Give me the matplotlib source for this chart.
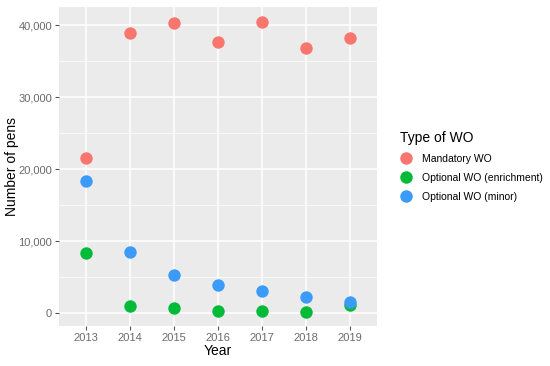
import matplotlib
matplotlib.use("Agg")
import matplotlib.pyplot as plt
from matplotlib.lines import Line2D

plt.rcParams['font.family'] = ['Liberation Sans', 'DejaVu Sans']

years = [2013, 2014, 2015, 2016, 2017, 2018, 2019]
mandatory = [21500, 38900, 40300, 37600, 40400, 36800, 38200]
enrichment = [8300, 1000, 700, 300, 300, 200, 1100]
minor = [18300, 8500, 5300, 3900, 3000, 2200, 1500]
series_names = ["Mandatory WO", "Optional WO (enrichment)", "Optional WO (minor)"]
colors = ["#F8766D", "#00BA38", "#3C9BF8"]
yticks = [0, 10000, 20000, 30000, 40000]

fig = plt.figure(figsize=(5.5, 3.66), dpi=100)
ax = fig.add_axes([59/550, 1-326/366, (377-59)/550, (326-7)/366])
ax.set_facecolor("#EBEBEB")
for s in ax.spines.values():
    s.set_visible(False)

for vals, c in zip([mandatory, enrichment, minor], colors):
    ax.scatter(years, vals, s=80, color=c, zorder=3, linewidths=0)

ax.set_xlim(2013 - 0.61, 2019 + 0.61)
ax.set_ylim(-1800, 42500)
ax.set_xticks(years)
ax.set_yticks(yticks)
ax.set_yticklabels([f"{v:,}" for v in yticks])
ax.set_yticks([5000, 15000, 25000, 35000], minor=True)
ax.grid(which='major', color='white', linewidth=1.1, zorder=0)
ax.grid(which='minor', axis='y', color='white', linewidth=0.55, zorder=0)
ax.tick_params(which='major', length=3, color='#555555', labelcolor='#6A6A6A', labelsize=8, width=0.8, pad=2)
ax.tick_params(which='minor', length=0)
ax.set_axisbelow(True)
ax.set_xlabel("Year", fontsize=10, color='black', labelpad=1)
ax.set_ylabel("Number of pens", fontsize=10, color='black', labelpad=0)
ax.yaxis.set_label_coords(-0.125, 0.5)

handles = [Line2D([], [], marker='o', linestyle='', markersize=9, color=c, markeredgewidth=0) for c in colors]
leg = fig.legend(handles, series_names, loc='upper left', bbox_to_anchor=(395/550, 1-126/366),
                 frameon=False, title="Type of WO", fontsize=7.5, title_fontsize=10,
                 handlelength=1.2, handletextpad=0.9, labelspacing=0.85, borderpad=0)
leg._legend_box.align = "left"

fig.savefig("out.png", dpi=100)
